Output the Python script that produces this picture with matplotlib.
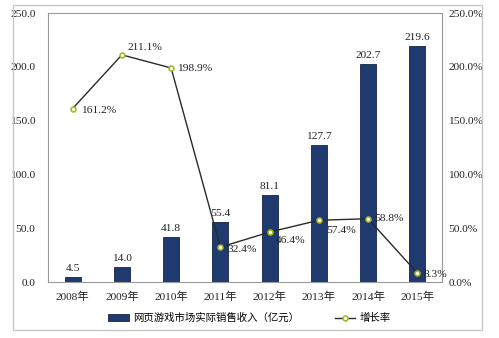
import matplotlib
matplotlib.use("Agg")
import matplotlib.pyplot as plt
from matplotlib.patches import Rectangle
from matplotlib.ticker import FuncFormatter

years = ["2008年", "2009年", "2010年", "2011年", "2012年", "2013年", "2014年", "2015年"]
revenue = [4.5, 14.0, 41.8, 55.4, 81.1, 127.7, 202.7, 219.6]
growth = [161.2, 211.1, 198.9, 32.4, 46.4, 57.4, 58.8, 8.3]
bar_label = "网页游戏市场实际销售收入（亿元）"
line_label = "增长率"

FONT = ["Liberation Serif", "Noto Sans CJK SC", "DejaVu Sans"]
plt.rcParams["font.family"] = FONT

FS = 8.2

fig = plt.figure(figsize=(4.99, 3.38), dpi=100)
# outer frame
fig.patches.append(Rectangle((13/499, 1-330/338), 469/499, 325/338, transform=fig.transFigure,
                             fill=False, edgecolor="#c8c8c8", linewidth=1.0))

ax = fig.add_axes([48/499, 1-282/338, 394/499, 269/338])
x = list(range(len(years)))
bars = ax.bar(x, revenue, width=0.32, color="#1f3a6e", edgecolor="#14264a", linewidth=0.6, zorder=2,
              label=bar_label)
ax.set_xlim(-0.5, len(years)-0.5)
ax.set_ylim(0, 250)
ax.set_yticks([0, 50, 100, 150, 200, 250])
ax.yaxis.set_major_formatter(FuncFormatter(lambda v, p: f"{v:.1f}"))
ax.set_xticks(x)
ax.set_xticklabels(years)
ax.tick_params(axis="both", length=0, labelsize=FS, colors="#222222")
ax.tick_params(axis="y", pad=9)
ax.tick_params(axis="x", pad=7)
for s in ax.spines.values():
    s.set_color("#999999")
    s.set_linewidth(0.8)

for xi, v in zip(x, revenue):
    ax.annotate(f"{v:.1f}", (xi, v), xytext=(0, 4), textcoords="offset pixels",
                ha="center", va="bottom", fontsize=FS, color="#222222")

ax2 = ax.twinx()
ax2.set_ylim(0, 250)
ax2.set_yticks([0, 50, 100, 150, 200, 250])
ax2.yaxis.set_major_formatter(FuncFormatter(lambda v, p: f"{v:.1f}%"))
ax2.tick_params(axis="y", length=0, labelsize=FS, colors="#222222", pad=4.5)
for s in ax2.spines.values():
    s.set_visible(False)
ln, = ax2.plot(x, growth, color="#2a2a2a", linewidth=1.0, marker="o", markersize=3.5,
               markerfacecolor="white", markeredgecolor="#a8b820", markeredgewidth=1.2,
               zorder=3, label=line_label)

offsets = [(8, -2), (6, 7), (6, -1), (7, -2), (6, -8), (7, -10), (6, 0), (6, -1)]
for xi, g, off in zip(x, growth, offsets):
    ax2.annotate(f"{g:.1f}%", (xi, g), xytext=off, textcoords="offset pixels",
                 ha="left", va="center", fontsize=FS, color="#222222")

fig.legend([bars, ln], [bar_label, line_label], loc="center", ncol=2,
           bbox_to_anchor=(0.5, 1-318/338), frameon=False, fontsize=7.5,
           handlelength=2.0, handleheight=0.6, columnspacing=3.4, handletextpad=0.4)

fig.savefig("out.png", dpi=100)
